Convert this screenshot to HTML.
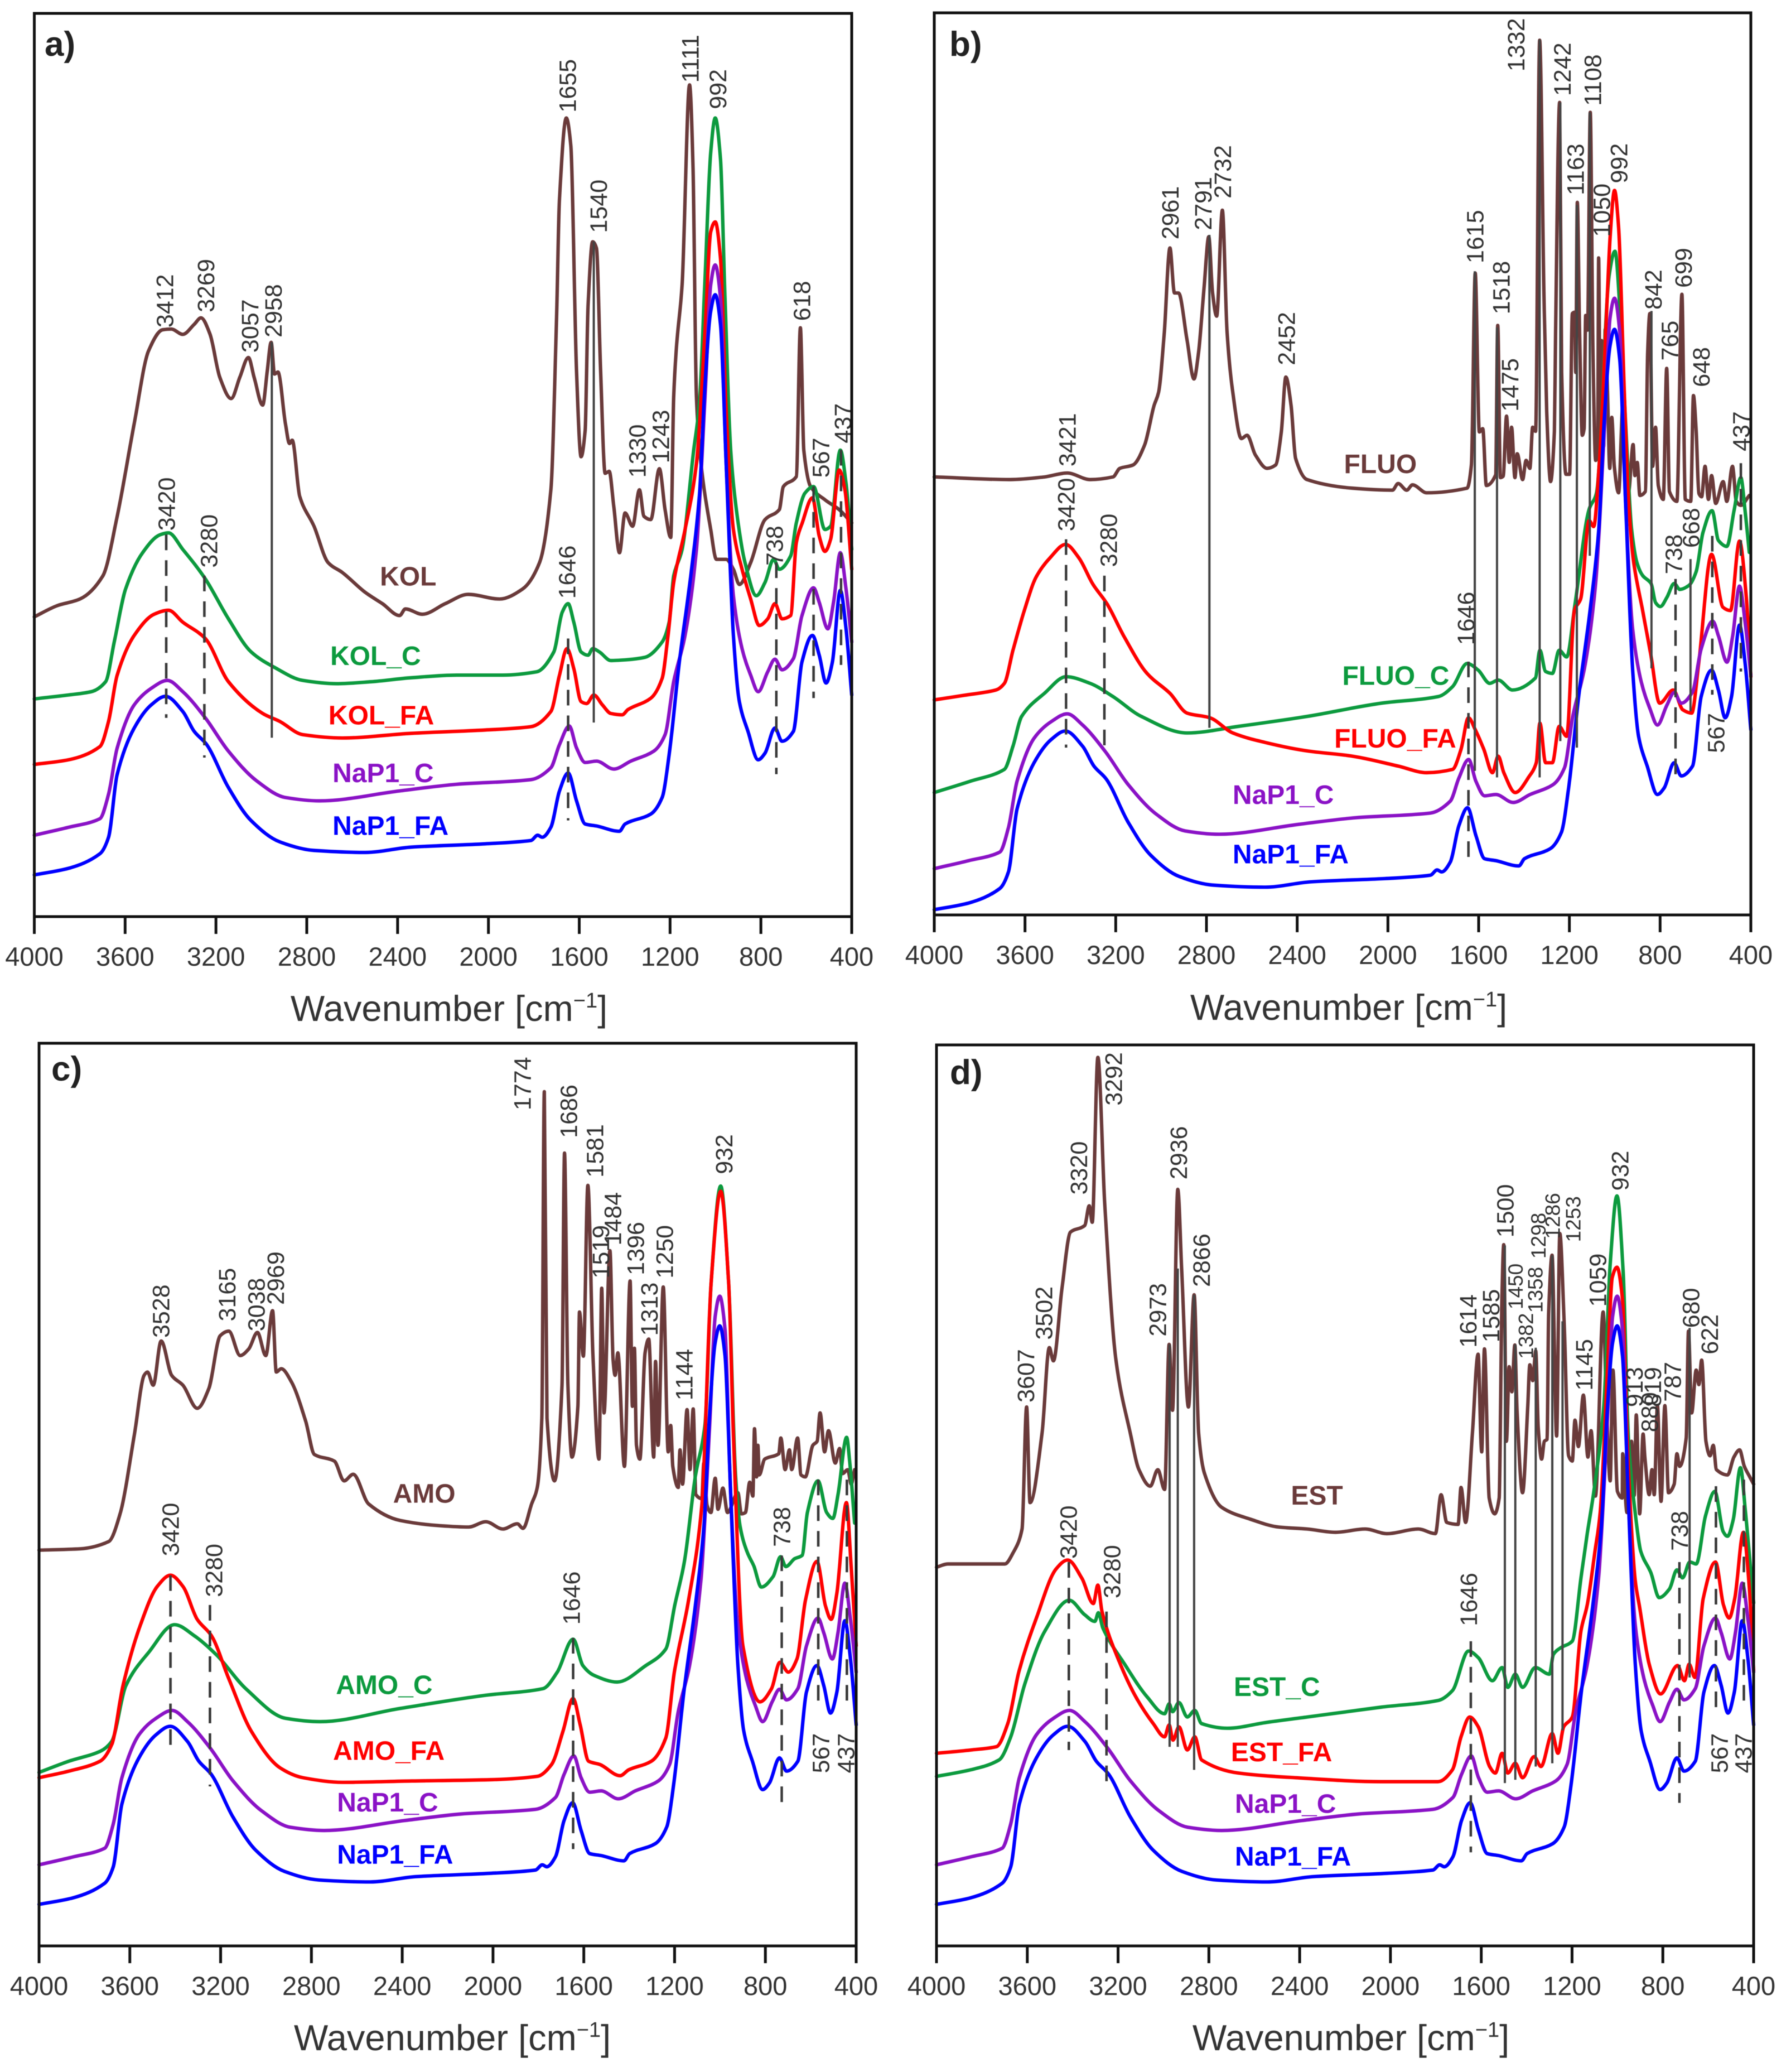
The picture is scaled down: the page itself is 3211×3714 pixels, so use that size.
<!DOCTYPE html>
<html lang="en">
<head>
<meta charset="utf-8">
<title>FTIR spectra panels</title>
<style>
html,body{margin:0;padding:0;background:#fff;}
svg{display:block;font-family:"Liberation Sans",sans-serif;filter:blur(0.7px);}
</style>
</head>
<body>
<svg id="figure" xmlns="http://www.w3.org/2000/svg" width="3211" height="3714" viewBox="0 0 3211 3714">
<rect x="0" y="0" width="3211" height="3714" fill="#ffffff"/>
</svg>
<script>
// ---------- axis ticks ----------
const xTickValues = [4000,3600,3200,2800,2400,2000,1600,1200,800,400];

// ---------- shared zeolite spectra ----------
const nap1CWavenumbers = [4000,3849,3711,3673,3635,3560,3485,3414,3346,3246,3145,3020,2894,2744,2391,2140,1813,1725,1687,1644,1612,1574,1524,1448,1373,1272,1222,1184,1134,1084,1046,1021,1001,978,953,921,883,845,812,770,738,707,657,619,568,543,505,480,450,425,400];
const nap1CAbsorbance = [123,135,148,185,255,320,345,357,340,300,250,205,180,175,190,200,207,225,260,288,255,233,235,223,235,250,275,355,425,555,785,955,985,935,685,485,405,365,340,370,389,373,390,455,497,475,435,475,550,495,415];
const nap1FaWavenumbers = [4000,3849,3711,3673,3635,3560,3485,3422,3346,3296,3241,3145,3045,2919,2768,2542,2341,2014,1813,1783,1763,1725,1687,1649,1612,1574,1524,1423,1398,1285,1235,1204,1159,1109,1071,1046,1021,1001,978,953,921,895,857,812,782,738,707,657,619,573,543,513,485,450,425,400];
const nap1FaAbsorbance = [63,73,95,120,215,285,320,333,310,280,260,195,145,113,100,97,105,110,115,123,120,135,190,217,175,140,137,129,140,155,180,245,385,515,635,805,915,940,895,685,425,325,280,237,247,285,265,280,385,425,395,353,385,493,435,335];

// ---------- panel a ----------
const kolWavenumbers = [4000,3899,3799,3698,3635,3560,3497,3434,3397,3346,3296,3266,3226,3183,3133,3095,3057,3032,2994,2974,2957,2942,2927,2894,2876,2864,2831,2768,2706,2643,2542,2467,2391,2366,2291,2190,2089,1951,1850,1775,1725,1700,1687,1657,1637,1612,1592,1574,1561,1541,1524,1506,1486,1468,1448,1423,1398,1365,1335,1315,1285,1247,1222,1197,1184,1172,1147,1114,1099,1084,1064,1021,996,953,921,895,845,782,719,701,644,626,611,581,518,455,400];
const kolAbsorbance = [453,470,480,515,605,745,855,887,888,880,895,905,880,815,783,815,845,815,773,825,868,820,823,745,715,720,635,590,535,520,490,473,455,465,457,473,487,480,495,535,645,905,1085,1207,1165,825,695,735,925,1020,1010,825,670,673,620,550,610,590,645,605,600,677,615,573,785,860,955,1257,1135,785,685,585,540,540,525,502,535,600,615,650,665,890,705,650,630,615,595];
const kolCWavenumbers = [4000,3849,3749,3686,3648,3598,3523,3447,3409,3346,3246,3145,3045,2944,2818,2668,2517,2341,2140,1938,1788,1712,1675,1649,1624,1592,1561,1541,1511,1461,1398,1310,1235,1204,1184,1147,1096,1071,1046,1021,1001,978,958,933,908,870,820,782,744,719,669,644,606,568,518,493,450,425,400];
const kolCAbsorbance = [329,335,340,355,415,495,550,577,580,555,510,450,400,377,357,352,355,361,365,365,370,400,460,473,445,400,395,405,400,387,388,392,415,445,515,555,705,775,965,1155,1207,1145,935,705,615,535,485,505,540,525,545,595,640,650,585,590,705,655,555];
const kolFaWavenumbers = [4000,3849,3711,3673,3635,3560,3472,3409,3346,3246,3145,2994,2919,2818,2642,2341,2014,1813,1725,1687,1654,1624,1592,1567,1536,1498,1461,1411,1385,1285,1235,1209,1184,1134,1084,1046,1021,1001,978,953,921,883,845,807,770,738,707,669,644,618,573,543,518,493,455,430,400];
const kolFaAbsorbance = [230,237,257,295,365,425,457,463,445,420,355,307,295,275,270,277,282,287,310,365,405,375,325,322,335,320,307,305,313,330,360,425,505,585,685,885,1035,1050,995,765,585,525,480,440,450,473,450,455,565,595,633,575,552,570,675,645,525];

// ---------- panel b ----------
const fluoWavenumbers = [4000,3665,3514,3414,3313,3212,3182,3124,3073,3031,3011,2986,2961,2941,2923,2886,2855,2835,2810,2790,2773,2755,2730,2709,2684,2646,2621,2584,2533,2495,2470,2450,2427,2407,2357,2157,1980,1955,1917,1892,1829,1651,1632,1615,1597,1582,1566,1525,1516,1504,1492,1477,1465,1455,1440,1430,1406,1391,1374,1362,1349,1331,1312,1300,1283,1266,1261,1243,1234,1215,1199,1187,1177,1172,1165,1155,1143,1135,1128,1120,1108,1096,1084,1075,1071,1064,1058,1049,1042,1032,1022,1013,1002,983,963,955,939,919,911,901,889,865,855,845,833,820,808,786,771,759,726,704,689,665,653,641,629,617,602,587,573,555,522,506,481,464,444,407];
const fluoAbsorbance = [662,658,662,668,658,662,675,680,710,770,790,880,1008,940,940,870,810,850,950,1025,940,905,1065,880,790,720,725,695,675,680,730,813,770,690,658,645,642,652,642,650,638,645,680,970,730,735,649,665,891,661,663,754,684,737,661,697,658,687,675,737,731,1322,938,761,655,731,879,1228,820,666,666,909,911,820,1077,879,725,735,906,884,1213,850,687,708,993,708,868,708,885,791,675,752,678,638,778,700,640,711,664,684,634,640,850,909,678,737,649,628,826,640,625,938,628,625,785,731,637,632,678,628,664,622,655,625,678,625,619,634];
const fluoCWavenumbers = [4000,3842,3691,3653,3615,3514,3419,3313,3212,3087,2886,2659,2357,2030,1778,1715,1651,1602,1551,1514,1451,1350,1330,1305,1275,1245,1212,1175,1113,1081,1024,999,976,951,926,901,877,840,820,799,770,738,713,673,641,611,571,543,506,473,444,426,407];
const fluoCAbsorbance = [185,202,220,255,300,335,360,350,330,300,275,285,300,320,330,345,380,370,350,355,340,358,400,368,365,400,390,470,613,637,968,1003,909,737,584,531,513,501,472,466,480,501,492,498,519,578,611,566,557,613,661,613,548];
const fluoFaWavenumbers = [4000,3867,3728,3691,3653,3603,3552,3489,3421,3363,3301,3238,3162,3062,2961,2885,2785,2684,2533,2357,2157,1955,1829,1715,1678,1645,1615,1577,1539,1514,1489,1439,1376,1346,1330,1305,1275,1245,1212,1178,1150,1113,1093,1069,1040,1020,1001,983,958,939,918,877,842,802,742,700,661,630,573,523,490,450,420,400];
const fluoFaAbsorbance = [325,332,340,350,400,460,510,540,560,540,500,470,420,365,335,305,298,275,260,248,240,225,215,220,250,298,280,250,215,240,215,185,210,230,290,230,230,285,270,460,478,596,587,678,879,1027,1095,1039,791,625,537,460,395,320,340,310,305,380,545,465,460,565,480,360];

// ---------- panel c ----------
const amoWavenumbers = [4000,3819,3693,3643,3580,3537,3522,3497,3462,3416,3366,3303,3252,3202,3164,3114,3076,3038,3001,2971,2955,2933,2888,2825,2787,2699,2656,2616,2548,2409,2233,2107,2032,1956,1893,1868,1830,1805,1785,1774,1762,1729,1696,1685,1670,1652,1626,1619,1602,1582,1560,1533,1521,1511,1485,1471,1462,1450,1421,1396,1386,1377,1368,1353,1330,1314,1292,1284,1273,1250,1228,1217,1208,1184,1176,1165,1145,1132,1118,1106,1080,1071,1057,1040,1021,1009,987,967,921,906,888,869,855,848,839,833,827,803,741,732,713,694,684,658,643,624,591,572,559,539,522,492,473,460,437,422,407];
const amoAbsorbance = [600,602,613,655,775,865,870,850,917,865,850,815,845,925,932,895,905,930,895,963,870,875,855,795,745,735,705,715,670,645,637,635,643,632,640,633,670,695,800,1295,800,705,850,1202,850,741,818,961,894,1153,899,738,997,808,1054,888,865,899,727,1008,818,906,759,738,899,920,741,886,759,999,749,789,727,695,752,700,813,722,814,684,678,732,668,657,709,662,694,657,687,655,657,703,682,784,711,759,714,738,746,770,722,752,722,770,714,711,759,765,808,749,781,732,754,716,722,700,722];
const amoCWavenumbers = [4000,3869,3731,3680,3617,3517,3403,3315,3215,3089,2913,2762,2409,2032,1780,1717,1647,1604,1554,1453,1327,1239,1199,1157,1109,1066,1039,997,962,931,911,879,851,818,766,733,710,671,638,615,568,530,503,480,442,428,407];
const amoCAbsorbance = [263,280,295,310,395,445,487,470,440,390,345,340,360,380,390,415,465,425,410,400,425,450,517,582,711,791,1006,1152,1006,711,635,596,576,544,560,590,575,587,592,657,705,657,648,684,771,732,641];
const amoFaWavenumbers = [4000,3869,3731,3680,3630,3555,3479,3421,3366,3303,3240,3164,3064,2938,2837,2661,2359,2007,1805,1742,1692,1647,1616,1579,1529,1440,1402,1302,1239,1201,1138,1080,1039,997,962,940,899,824,773,736,699,661,623,573,535,510,485,443,422,400];
const amoFaAbsorbance = [255,265,280,305,395,485,545,562,545,495,470,405,325,270,255,248,250,252,257,275,325,375,335,280,275,258,267,280,315,415,525,668,1006,1144,1006,765,455,370,390,430,415,435,525,583,515,495,535,672,575,455];

// ---------- panel d ----------
const estWavenumbers = [4000,3950,3699,3661,3623,3603,3588,3535,3503,3485,3447,3410,3347,3327,3314,3289,3259,3209,3146,3108,3058,3025,2995,2975,2960,2937,2920,2890,2865,2845,2820,2744,2618,2493,2367,2242,2111,2016,1877,1802,1777,1752,1702,1689,1669,1639,1614,1598,1586,1565,1541,1521,1509,1501,1489,1477,1465,1452,1442,1418,1395,1386,1373,1360,1349,1334,1322,1310,1303,1288,1268,1254,1235,1215,1199,1187,1172,1150,1130,1116,1097,1063,1048,1032,1020,1000,979,977,958,938,926,917,902,887,879,860,848,838,824,808,791,775,750,738,726,697,687,673,653,641,629,610,592,578,564,515,487,462,441,417,400];
const estAbsorbance = [574,579,579,597,632,817,672,777,907,887,997,1082,1092,1122,1097,1347,1127,887,777,722,697,722,692,912,812,1147,1027,817,987,777,717,665,647,635,632,627,632,625,632,625,684,642,639,695,642,777,897,749,905,679,655,679,981,1063,765,878,840,911,808,687,819,881,857,902,786,738,765,768,959,1047,773,1080,948,743,735,797,757,835,741,781,682,961,819,705,873,689,679,746,657,765,683,805,655,776,740,684,722,684,819,674,819,687,700,746,727,770,932,808,873,851,888,765,743,759,722,714,741,752,727,711,700];
const estCWavenumbers = [4000,3849,3724,3673,3611,3523,3415,3347,3302,3287,3267,3171,3071,2995,2975,2960,2932,2895,2862,2832,2719,2543,2367,2041,1790,1727,1656,1613,1551,1508,1483,1450,1418,1362,1300,1282,1250,1199,1161,1133,1104,1060,1032,1002,975,951,922,897,853,816,771,738,713,681,653,612,571,534,515,490,458,437,416,400];
const estCAbsorbance = [257,267,282,317,397,477,524,502,492,505,482,427,377,352,367,355,369,347,357,337,330,339,347,362,372,387,447,437,402,422,392,412,392,422,412,442,452,462,557,625,689,819,1033,1137,1023,765,657,598,566,528,541,570,558,582,579,652,689,628,621,646,725,662,582,520];
const estFaWavenumbers = [4000,3849,3736,3686,3636,3560,3472,3422,3359,3309,3289,3271,3196,3121,3045,2995,2975,2958,2932,2895,2862,2832,2669,2417,2041,1790,1727,1689,1651,1613,1563,1538,1508,1483,1450,1418,1367,1337,1287,1262,1237,1199,1161,1133,1099,1076,1044,1023,1002,978,953,922,902,860,810,735,705,684,659,622,568,533,508,483,445,420,400];
const estFaAbsorbance = [292,297,302,337,417,497,572,585,557,519,547,507,432,377,337,317,335,312,332,297,317,282,262,255,249,249,267,317,347,332,272,262,292,262,277,255,287,272,322,292,332,347,477,517,598,657,873,1013,1029,981,733,555,513,427,382,425,402,427,407,527,582,517,497,527,627,547,417];

// ---------- colours ----------
const BROWN = '#6a3a3a';
const GREEN = '#0c9a3e';
const RED = '#ff0000';
const PURPLE = '#8a12c6';
const BLUE = '#0000ff';

const SVGNS = 'http://www.w3.org/2000/svg';
const figure = document.getElementById('figure');

function makePanel(id, left, right, top, bottom, ox, oy, sx, sy) {
  const g = document.createElementNS(SVGNS, 'g');
  
  
  figure.appendChild(g);
  return {id: id, left: left, right: right, top: top, bottom: bottom, ox: ox, oy: oy, sx: sx, sy: sy, g: g};
}
function xScale(p, wavenumber) {
  return p.left + (4000 - wavenumber) / 3600 * (p.right - p.left);
}
function yScale(p, absorbance) {
  return p.bottom - absorbance * p.sy;
}

// monotone cubic path through the data points
function linePath(p, wavenumbers, absorbance, shift) {
  const n = Math.min(wavenumbers.length, absorbance.length);
  const xs = [], ys = [];
  for (let i = 0; i < n; i++) {
    xs.push(xScale(p, wavenumbers[i]));
    ys.push(yScale(p, absorbance[i] + shift));
  }
  const slopes = [], tangents = [];
  for (let i = 0; i < n - 1; i++) {
    slopes.push((ys[i + 1] - ys[i]) / Math.max(xs[i + 1] - xs[i], 0.01));
  }
  tangents.push(slopes[0]);
  for (let i = 1; i < n - 1; i++) {
    if (slopes[i - 1] * slopes[i] <= 0) {
      tangents.push(0);
    } else {
      tangents.push(2 * slopes[i - 1] * slopes[i] / (slopes[i - 1] + slopes[i]));
    }
  }
  tangents.push(slopes[n - 2]);
  let d = 'M' + xs[0].toFixed(1) + ' ' + ys[0].toFixed(1);
  for (let i = 0; i < n - 1; i++) {
    const h = (xs[i + 1] - xs[i]) / 3;
    d += 'C' + (xs[i] + h).toFixed(1) + ' ' + (ys[i] + tangents[i] * h).toFixed(1) + ' ' +
      (xs[i + 1] - h).toFixed(1) + ' ' + (ys[i + 1] - tangents[i + 1] * h).toFixed(1) + ' ' +
      xs[i + 1].toFixed(1) + ' ' + ys[i + 1].toFixed(1);
  }
  return d;
}
function drawSeries(p, name, wavenumbers, absorbance, color, shift) {
  const path = document.createElementNS(SVGNS, 'path');
  
  
  path.setAttribute('d', linePath(p, wavenumbers, absorbance, shift));
  path.setAttribute('fill', 'none');
  path.setAttribute('stroke', color);
  path.setAttribute('stroke-width', '6.2');
  path.setAttribute('stroke-linejoin', 'round');
  path.setAttribute('stroke-linecap', 'round');
  p.g.appendChild(path);
}
function guide(p, wavenumber, uTop, uBottom, dashed) {
  const line = document.createElementNS(SVGNS, 'line');
  
  
  const x = xScale(p, wavenumber);
  line.setAttribute('x1', x);
  line.setAttribute('x2', x);
  line.setAttribute('y1', p.oy + uTop * p.sy);
  line.setAttribute('y2', p.oy + uBottom * p.sy);
  line.setAttribute('stroke', dashed ? '#3a3a3a' : '#444444');
  line.setAttribute('stroke-width', dashed ? '4.5' : '4');
  if (dashed) {
    line.setAttribute('stroke-dasharray', '28 18');
  }
  p.g.appendChild(line);
}
function peakLabel(p, text, ux, uBottom, small) {
  const t = document.createElementNS(SVGNS, 'text');
  
  
  const x = p.ox + ux * p.sx;
  const y = p.oy + uBottom * p.sy;
  t.setAttribute('transform', 'translate(' + x.toFixed(1) + ' ' + y.toFixed(1) + ') rotate(-90)');
  t.setAttribute('font-size', small ? '37' : '43');
  t.setAttribute('dy', '0.36em');
  t.setAttribute('fill', '#333333');
  t.textContent = text;
  p.g.appendChild(t);
}
function seriesLabel(p, text, ux, uBaseline, color) {
  const t = document.createElementNS(SVGNS, 'text');
  
  
  t.setAttribute('x', p.ox + ux * p.sx);
  t.setAttribute('y', p.oy + uBaseline * p.sy);
  t.setAttribute('font-size', '48');
  t.setAttribute('font-weight', 'bold');
  t.setAttribute('fill', color);
  t.textContent = text;
  p.g.appendChild(t);
}
function drawAxes(p, letter, letterX, letterY, titleX, titleY) {
  const frame = document.createElementNS(SVGNS, 'rect');
  
  
  frame.setAttribute('x', p.left);
  frame.setAttribute('y', p.top);
  frame.setAttribute('width', p.right - p.left);
  frame.setAttribute('height', p.bottom - p.top);
  frame.setAttribute('fill', 'none');
  frame.setAttribute('stroke', '#111111');
  frame.setAttribute('stroke-width', '5');
  p.g.appendChild(frame);
  xTickValues.forEach(function (v) {
    const x = xScale(p, v);
    const tick = document.createElementNS(SVGNS, 'line');
    
    
    tick.setAttribute('x1', x);
    tick.setAttribute('x2', x);
    tick.setAttribute('y1', p.bottom);
    tick.setAttribute('y2', p.bottom + 31);
    tick.setAttribute('stroke', '#111111');
    tick.setAttribute('stroke-width', '5');
    p.g.appendChild(tick);
    const label = document.createElementNS(SVGNS, 'text');
    
    
    label.setAttribute('x', x);
    label.setAttribute('y', p.bottom + 88);
    label.setAttribute('text-anchor', 'middle');
    label.setAttribute('font-size', '47');
    label.setAttribute('fill', '#333333');
    label.textContent = String(v);
    p.g.appendChild(label);
  });
  const title = document.createElementNS(SVGNS, 'text');
  
  
  title.setAttribute('x', titleX);
  title.setAttribute('y', titleY);
  title.setAttribute('text-anchor', 'middle');
  title.setAttribute('font-size', '65');
  title.setAttribute('fill', '#333333');
  const main = document.createElementNS(SVGNS, 'tspan');
  main.textContent = 'Wavenumber [cm';
  const sup = document.createElementNS(SVGNS, 'tspan');
  sup.setAttribute('font-size', '38');
  sup.setAttribute('dy', '-24');
  sup.textContent = '\u22121';
  const end = document.createElementNS(SVGNS, 'tspan');
  end.setAttribute('dy', '24');
  end.textContent = ']';
  title.appendChild(main);
  title.appendChild(sup);
  title.appendChild(end);
  p.g.appendChild(title);
  const tag = document.createElementNS(SVGNS, 'text');
  
  
  tag.setAttribute('x', letterX);
  tag.setAttribute('y', letterY);
  tag.setAttribute('font-size', '62');
  tag.setAttribute('font-weight', 'bold');
  tag.setAttribute('fill', '#222222');
  tag.textContent = letter;
  p.g.appendChild(tag);
}

// ---------- panel a ----------
const pa = makePanel('a', 61.5, 1527, 24, 1643, 0, 0, 1.0242, 1.186);
drawSeries(pa, 'kol', kolWavenumbers, kolAbsorbance, BROWN, 0);
drawSeries(pa, 'kol-c', kolCWavenumbers, kolCAbsorbance, GREEN, 0);
drawSeries(pa, 'kol-fa', kolFaWavenumbers, kolFaAbsorbance, RED, 0);
drawSeries(pa, 'nap1-c', nap1CWavenumbers, nap1CAbsorbance, PURPLE, 0);
drawSeries(pa, 'nap1-fa', nap1FaWavenumbers, nap1FaAbsorbance, BLUE, 0);
guide(pa, 3419, 808, 1085, true);
guide(pa, 3251, 870, 1145, true);
guide(pa, 2954, 517, 1115, false);
guide(pa, 1649, 965, 1240, true);
guide(pa, 1536, 365, 1092, false);
guide(pa, 732, 850, 1170, true);
guide(pa, 568, 735, 1055, true);
guide(pa, 447, 680, 1005, true);
peakLabel(pa, '3412', 288, 495);
peakLabel(pa, '3269', 360, 472);
peakLabel(pa, '3057', 437, 533);
peakLabel(pa, '2958', 478, 510);
peakLabel(pa, '1655', 993, 170);
peakLabel(pa, '1540', 1047, 352);
peakLabel(pa, '1111', 1208, 125);
peakLabel(pa, '992', 1256, 165);
peakLabel(pa, '1330', 1115, 722);
peakLabel(pa, '1243', 1156, 700);
peakLabel(pa, '618', 1403, 485);
peakLabel(pa, '567', 1436, 722);
peakLabel(pa, '437', 1475, 670);
peakLabel(pa, '3420', 291, 802);
peakLabel(pa, '3280', 365, 858);
peakLabel(pa, '1646', 992, 905);
peakLabel(pa, '738', 1355, 855);
seriesLabel(pa, 'KOL', 665, 885, BROWN);
seriesLabel(pa, 'KOL_C', 578, 1005, GREEN);
seriesLabel(pa, 'KOL_FA', 575, 1095, RED);
seriesLabel(pa, 'NaP1_C', 582, 1182, PURPLE);
seriesLabel(pa, 'NaP1_FA', 582, 1262, BLUE);
drawAxes(pa, 'a)', 80, 100, 805, 1830);

// ---------- panel b ----------
const pb = makePanel('b', 1675, 3139, 23, 1640, 1606, 0, 1.0236, 1.186);
drawSeries(pb, 'fluo', fluoWavenumbers, fluoAbsorbance, BROWN, 0);
drawSeries(pb, 'fluo-c', fluoCWavenumbers, fluoCAbsorbance, GREEN, 0);
drawSeries(pb, 'fluo-fa', fluoFaWavenumbers, fluoFaAbsorbance, RED, 0);
drawSeries(pb, 'nap1-c', nap1CWavenumbers, nap1CAbsorbance, PURPLE, -53);
drawSeries(pb, 'nap1-fa', nap1FaWavenumbers, nap1FaAbsorbance, BLUE, -55);
guide(pb, 3419, 815, 1130, true);
guide(pb, 3250, 870, 1140, true);
guide(pb, 2787, 355, 1100, false);
guide(pb, 1645, 1000, 1305, true);
guide(pb, 1617, 410, 1165, false);
guide(pb, 1519, 495, 1175, false);
guide(pb, 1331, 60, 1175, false);
guide(pb, 1240, 155, 1120, false);
guide(pb, 1167, 310, 1130, false);
guide(pb, 1110, 170, 840, false);
guide(pb, 838, 470, 1010, false);
guide(pb, 732, 875, 1185, true);
guide(pb, 666, 845, 1075, false);
guide(pb, 570, 810, 1050, true);
guide(pb, 444, 700, 1015, true);
peakLabel(pb, '3421', 300, 705);
peakLabel(pb, '2961', 480, 362);
peakLabel(pb, '2791', 538, 348);
peakLabel(pb, '2732', 572, 300);
peakLabel(pb, '2452', 684, 552);
peakLabel(pb, '1615', 1014, 398);
peakLabel(pb, '1518', 1060, 475);
peakLabel(pb, '1475', 1075, 622);
peakLabel(pb, '1332', 1086, 108);
peakLabel(pb, '1242', 1167, 145);
peakLabel(pb, '1163', 1190, 295);
peakLabel(pb, '1108', 1220, 160);
peakLabel(pb, '1050', 1236, 358);
peakLabel(pb, '992', 1266, 277);
peakLabel(pb, '842', 1326, 468);
peakLabel(pb, '765', 1355, 545);
peakLabel(pb, '699', 1379, 435);
peakLabel(pb, '648', 1410, 585);
peakLabel(pb, '437', 1480, 682);
peakLabel(pb, '3420', 298, 803);
peakLabel(pb, '3280', 372, 857);
peakLabel(pb, '1646', 998, 975);
peakLabel(pb, '738', 1362, 868);
peakLabel(pb, '668', 1392, 828);
peakLabel(pb, '567', 1436, 1138);
seriesLabel(pb, 'FLUO', 785, 715, BROWN);
seriesLabel(pb, 'FLUO_C', 782, 1035, GREEN);
seriesLabel(pb, 'FLUO_FA', 768, 1130, RED);
seriesLabel(pb, 'NaP1_C', 590, 1215, PURPLE);
seriesLabel(pb, 'NaP1_FA', 590, 1305, BLUE);
drawAxes(pb, 'b)', 1702, 100, 2418, 1828);

// ---------- panel c ----------
const pc = makePanel('c', 70, 1535, 1870, 3488, 0, 1860, 1.0242, 1.1824);
drawSeries(pc, 'amo', amoWavenumbers, amoAbsorbance, BROWN, 0);
drawSeries(pc, 'amo-c', amoCWavenumbers, amoCAbsorbance, GREEN, 0);
drawSeries(pc, 'amo-fa', amoFaWavenumbers, amoFaAbsorbance, RED, 0);
drawSeries(pc, 'nap1-c', nap1CWavenumbers, nap1CAbsorbance, PURPLE, 0);
drawSeries(pc, 'nap1-fa', nap1FaWavenumbers, nap1FaAbsorbance, BLUE, 0);
guide(pc, 3421, 815, 1075, true);
guide(pc, 3247, 860, 1135, true);
guide(pc, 1647, 910, 1230, true);
guide(pc, 728, 785, 1160, true);
guide(pc, 567, 670, 1020, true);
guide(pc, 441, 670, 1010, true);
peakLabel(pc, '3528', 281, 455);
peakLabel(pc, '3165', 397, 430);
peakLabel(pc, '3038', 448, 445);
peakLabel(pc, '2969', 482, 405);
peakLabel(pc, '1774', 914, 110);
peakLabel(pc, '1686', 995, 152);
peakLabel(pc, '1581', 1041, 212);
peakLabel(pc, '1519', 1051, 365);
peakLabel(pc, '1484', 1072, 315);
peakLabel(pc, '1396', 1112, 360);
peakLabel(pc, '1313', 1136, 452);
peakLabel(pc, '1250', 1163, 365);
peakLabel(pc, '1144', 1197, 550);
peakLabel(pc, '932', 1267, 207);
peakLabel(pc, '3420', 298, 786);
peakLabel(pc, '3280', 374, 848);
peakLabel(pc, '1646', 1000, 890);
peakLabel(pc, '738', 1368, 772);
peakLabel(pc, '567', 1436, 1115);
peakLabel(pc, '437', 1480, 1115);
seriesLabel(pc, 'AMO', 688, 705, BROWN);
seriesLabel(pc, 'AMO_C', 588, 995, GREEN);
seriesLabel(pc, 'AMO_FA', 583, 1095, RED);
seriesLabel(pc, 'NaP1_C', 590, 1173, PURPLE);
seriesLabel(pc, 'NaP1_FA', 590, 1252, BLUE);
drawAxes(pc, 'c)', 92, 1937, 811, 3675);

// ---------- panel d ----------
const pd = makePanel('d', 1679, 3144, 1873, 3488, 1606, 1860, 1.0236, 1.1824);
drawSeries(pd, 'est', estWavenumbers, estAbsorbance, BROWN, 0);
drawSeries(pd, 'est-c', estCWavenumbers, estCAbsorbance, GREEN, 0);
drawSeries(pd, 'est-fa', estFaWavenumbers, estFaAbsorbance, RED, 0);
drawSeries(pd, 'nap1-c', nap1CWavenumbers, nap1CAbsorbance, PURPLE, 0);
drawSeries(pd, 'nap1-fa', nap1FaWavenumbers, nap1FaAbsorbance, BLUE, 0);
guide(pd, 3417, 795, 1080, true);
guide(pd, 3251, 870, 1135, true);
guide(pd, 2973, 465, 1075, false);
guide(pd, 2937, 350, 1075, false);
guide(pd, 2865, 390, 1110, false);
guide(pd, 1646, 915, 1235, true);
guide(pd, 1496, 315, 1130, false);
guide(pd, 1450, 465, 1125, false);
guide(pd, 1360, 470, 1105, false);
guide(pd, 1287, 330, 1100, false);
guide(pd, 1242, 430, 1050, false);
guide(pd, 727, 795, 1160, true);
guide(pd, 682, 440, 970, false);
guide(pd, 566, 680, 1025, true);
guide(pd, 443, 670, 1005, true);
peakLabel(pd, '3607', 227, 553);
peakLabel(pd, '3502', 259, 458);
peakLabel(pd, '3320', 320, 238);
peakLabel(pd, '3292', 381, 103);
peakLabel(pd, '2973', 458, 453);
peakLabel(pd, '2936', 495, 215);
peakLabel(pd, '2866', 535, 378);
peakLabel(pd, '1614', 1002, 470);
peakLabel(pd, '1585', 1042, 462);
peakLabel(pd, '1500', 1067, 303);
peakLabel(pd, '1450', 1085, 412, true);
peakLabel(pd, '1382', 1103, 487, true);
peakLabel(pd, '1358', 1120, 417, true);
peakLabel(pd, '1298', 1125, 335, true);
peakLabel(pd, '1286', 1150, 305, true);
peakLabel(pd, '1253', 1186, 310, true);
peakLabel(pd, '1145', 1205, 535);
peakLabel(pd, '1059', 1229, 408);
peakLabel(pd, '932', 1268, 232);
peakLabel(pd, '913', 1293, 560);
peakLabel(pd, '880', 1320, 598);
peakLabel(pd, '819', 1325, 560);
peakLabel(pd, '787', 1360, 552);
peakLabel(pd, '680', 1392, 440);
peakLabel(pd, '622', 1425, 480);
peakLabel(pd, '738', 1372, 778);
peakLabel(pd, '3420', 302, 790);
peakLabel(pd, '3280', 378, 850);
peakLabel(pd, '1646', 1003, 892);
peakLabel(pd, '567', 1442, 1115);
peakLabel(pd, '437', 1484, 1115);
seriesLabel(pd, 'EST', 692, 708, BROWN);
seriesLabel(pd, 'EST_C', 592, 998, GREEN);
seriesLabel(pd, 'EST_FA', 587, 1097, RED);
seriesLabel(pd, 'NaP1_C', 594, 1175, PURPLE);
seriesLabel(pd, 'NaP1_FA', 594, 1255, BLUE);
drawAxes(pd, 'd)', 1703, 1943, 2422, 3675);
</script>
</body>
</html>
